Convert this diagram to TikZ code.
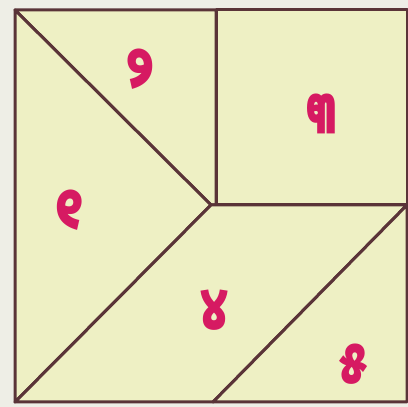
\documentclass[tikz,border=0pt]{standalone}
\usepackage{fontspec}
\newfontfamily\odia[Script=Oriya]{Noto Sans Oriya UI}
\definecolor{bgc}{HTML}{EEEEE6}
\definecolor{fillc}{HTML}{EEF0C4}
\definecolor{linec}{HTML}{5A3438}
\definecolor{numc}{HTML}{D61A62}
\tikzset{
  piece/.style={fill=fillc, draw=linec, line width=3pt, line join=round},
  num/.style={text=numc, font=\odia\fontsize{48}{48}\selectfont\bfseries, inner sep=0pt, yscale=1.25}
}
\begin{document}
\begin{tikzpicture}[x=1pt,y=1pt]
\useasboundingbox (0,0) rectangle (408,407);
\fill[bgc] (0,0) rectangle (408,407);
% corners
\coordinate (TL) at (15,397);
\coordinate (TR) at (407,397);
\coordinate (BL) at (15,5);
\coordinate (BR) at (407,5);
\coordinate (C) at (211,202);
\coordinate (TM) at (216,397);
\coordinate (RM) at (407,202);
\coordinate (BM) at (213,5);
\coordinate (CV) at (216,202);
% pieces
\draw[piece] (TL) -- (TM) -- (CV) -- (C) -- cycle;
\draw[piece] (TM) -- (TR) -- (RM) -- (CV) -- cycle;
\draw[piece] (TL) -- (C) -- (BL) -- cycle;
\draw[piece] (C) -- (RM) -- (BM) -- (BL) -- cycle;
\draw[piece] (RM) -- (BR) -- (BM) -- cycle;
% labels
\node[num] (n2) at (141,335) {୨};
\node[num] (n3) at (322,290) {୩};
\node[num] (n1) at (70,194) {୧};
\node[num] (n4) at (215,94) {୪};
\node[num] (n5) at (354,40) {୫};
\end{tikzpicture}
\end{document}
